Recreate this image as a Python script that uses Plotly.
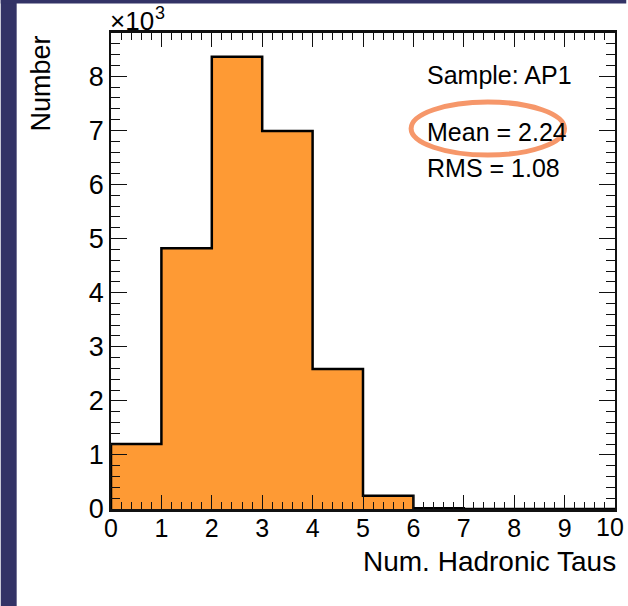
import plotly.graph_objects as go

# ---- data ----
bin_edges = [0, 1, 2, 3, 4, 5, 6, 7, 8, 9, 10]
counts = [1200, 4820, 8360, 6990, 2590, 246, 15, 0, 0, 0]
y_tick_vals = [0, 1000, 2000, 3000, 4000, 5000, 6000, 7000, 8000]
y_tick_text = ["0", "1", "2", "3", "4", "5", "6", "7", "8"]
x_tick_vals = [0, 1, 2, 3, 4, 5, 6, 7, 8, 9, 10]
x_tick_text = [str(v) for v in x_tick_vals[:-1]] + [""]
last_x_label = str(x_tick_vals[-1])
stats_lines = ["Sample: AP1", "Mean = 2.24", "RMS = 1.08"]

# ---- layout geometry (pixels) ----
W, H = 628, 606
L, R, T, B = 110.7, 616.7, 33.0, 509.0


def px(x):
    return (x - L) / (R - L)


def py(y):
    return (B - y) / (B - T)


FONT = "Liberation Sans, Arial, Helvetica, sans-serif"
NAVY = "#333366"
ORANGE = "#FE9A34"
ELLIPSE = "#F6976A"

xs = [bin_edges[0]] + bin_edges[:-1] + [bin_edges[-1]]
ys = [0] + counts + [counts[-1]]

fig = go.Figure()
fig.add_trace(go.Scatter(
    x=xs, y=ys, mode="lines", line=dict(shape="hv", color="black", width=2.5),
    fill="tozeroy", fillcolor=ORANGE, hoverinfo="skip", showlegend=False,
))

axis_common = dict(
    showgrid=False, zeroline=False, showline=True, linecolor="#111",
    mirror="ticks", ticks="inside", tickcolor="#111", tickwidth=1.3,
)

fig.update_xaxes(
    range=[0, 10], tickvals=x_tick_vals, ticktext=x_tick_text, ticklen=14,
    minor=dict(dtick=0.2, ticklen=7, tickcolor="#111", tickwidth=1.3, ticks="inside"),
    tickfont=dict(family=FONT, size=25, color="black"), linewidth=2.5,
    ticklabelstandoff=-5,
    **axis_common,
)
fig.update_yaxes(
    range=[0, 8800], tickvals=y_tick_vals, ticktext=y_tick_text, ticklen=16,
    minor=dict(dtick=200, ticklen=9, tickcolor="#111", tickwidth=1.3, ticks="inside"),
    tickfont=dict(family=FONT, size=27, color="black"), linewidth=1.8,
    **axis_common,
)

shapes = [
    # slide background strips
    dict(type="rect", xref="paper", yref="paper", x0=px(0), x1=px(16), y0=py(H), y1=py(0),
         fillcolor=NAVY, line=dict(width=0), layer="below"),
    dict(type="rect", xref="paper", yref="paper", x0=px(0), x1=px(W), y0=py(3.5), y1=py(0),
         fillcolor=NAVY, line=dict(width=0), layer="below"),
    # highlight ellipse
    dict(type="circle", xref="paper", yref="paper", x0=px(412), x1=px(566), y0=py(155), y1=py(102),
         line=dict(color=ELLIPSE, width=5)),
]

annotations = [
    dict(text=last_x_label, x=px(W - 0.5), y=py(527), xref="paper", yref="paper",
         xanchor="right", yanchor="middle", showarrow=False,
         font=dict(family=FONT, size=25, color="black")),
    dict(text="×10", x=px(108), y=py(21), xref="paper", yref="paper",
         xanchor="left", yanchor="middle", showarrow=False,
         font=dict(family=FONT, size=26, color="black")),
    dict(text="3", x=px(153), y=py(13), xref="paper", yref="paper",
         xanchor="left", yanchor="middle", showarrow=False,
         font=dict(family=FONT, size=18, color="black")),
    dict(text="Number", x=px(40), y=py(34), xref="paper", yref="paper", textangle=-90,
         xanchor="center", yanchor="top", showarrow=False,
         font=dict(family=FONT, size=27, color="black")),
    dict(text="Num. Hadronic Taus", x=px(620), y=py(561), xref="paper", yref="paper",
         xanchor="right", yanchor="middle", showarrow=False,
         font=dict(family=FONT, size=28, color="black")),
]
for txt, yc in zip(stats_lines, [75, 132, 168]):
    annotations.append(dict(text=txt, x=px(426), y=py(yc), xref="paper", yref="paper",
                            xanchor="left", yanchor="middle", showarrow=False,
                            font=dict(family=FONT, size=25, color="black")))

fig.update_layout(
    width=W, height=H, autosize=False,
    margin=dict(l=L, r=W - R, t=T, b=H - B, pad=0),
    paper_bgcolor="white", plot_bgcolor="white",
    shapes=shapes, annotations=annotations, showlegend=False,
)

fig.write_html("out.html", config={"displayModeBar": False})
